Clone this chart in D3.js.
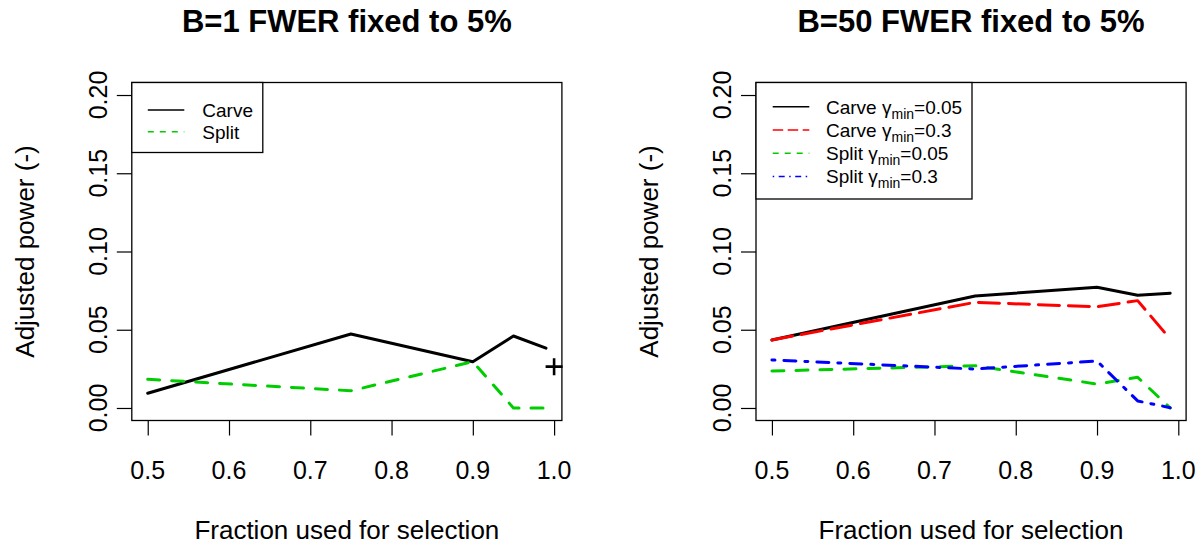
<!DOCTYPE html>
<html>
<head>
<meta charset="utf-8">
<script src="https://cdn.jsdelivr.net/npm/d3@7"></script>
<style>
  html, body { margin: 0; padding: 0; background: #ffffff; }
  svg { display: block; }
  text { font-family: "Liberation Sans", Arial, Helvetica, sans-serif; fill: #000; }
</style>
</head>
<body>
<svg id="chart" width="1204" height="548"></svg>
<script>
// Fractions of the sample used for the selection step
const fractions = [0.5, 0.75, 0.9, 0.95, 0.99];
const xTicks = [0.5, 0.6, 0.7, 0.8, 0.9, 1.0];
const yTicks = [0.00, 0.05, 0.10, 0.15, 0.20];

// B = 1 panel
const b1Carve = [0.0094, 0.0473, 0.0296, 0.0460, 0.0382];
const b1Split = [0.0183, 0.0110, 0.0296, 0.0000, 0.0000];
const b1Marker = [1.0, 0.0264];

// B = 50 panel
const b50CarveG005 = [0.0435, 0.0716, 0.0771, 0.0720, 0.0733];
const b50CarveG03 = [0.0435, 0.0675, 0.0647, 0.0686, 0.0441];
const b50SplitG005 = [0.0236, 0.0270, 0.0153, 0.0196, 0.0000];
const b50SplitG03 = [0.0307, 0.0249, 0.0300, 0.0045, 0.0002];

const titles = ["B=1 FWER fixed to 5%", "B=50 FWER fixed to 5%"];
const xLabel = "Fraction used for selection";
const yLabel = "Adjusted power (-)";

const svg = d3.select("#chart");
svg.append("rect").attr("width", 1204).attr("height", 548).attr("fill", "#fff");

const FONT = '"Liberation Sans", Arial, Helvetica, sans-serif';
const dashStyles = {
  solid: null,
  dashed: "12,12",
  longdash: "21,9",
  dotdash: "3,9,12,9"
};
const legendDash = {
  solid: null,
  dashed: "6,6",
  longdash: "10.5,4.5",
  dotdash: "1.5,4.5,6,4.5"
};

const panels = [
  {
    box: [131.8, 82.5, 561.9, 420.5],
    title: titles[0],
    series: [
      { values: b1Carve, color: "#000000", style: "solid", label: "Carve" },
      { values: b1Split, color: "#00CD00", style: "dashed", label: "Split" }
    ],
    marker: b1Marker,
    legend: { w: 131, h: 70, row0: 27.5, rowStep: 21.7, lineX0: 16, lineX1: 52.5, textX: 70.5, gamma: false }
  },
  {
    box: [756.0, 82.5, 1186.1, 420.5],
    title: titles[1],
    series: [
      { values: b50CarveG005, color: "#000000", style: "solid", label: "Carve", g: "0.05" },
      { values: b50CarveG03, color: "#FF0000", style: "longdash", label: "Carve", g: "0.3" },
      { values: b50SplitG005, color: "#00CD00", style: "dashed", label: "Split", g: "0.05" },
      { values: b50SplitG03, color: "#0000FF", style: "dotdash", label: "Split", g: "0.3" }
    ],
    marker: null,
    legend: { w: 216, h: 116.5, row0: 24.2, rowStep: 23.3, lineX0: 16.7, lineX1: 53.3, textX: 70, gamma: true }
  }
];

panels.forEach(p => {
  const [bx0, by0, bx1, by1] = p.box;
  const xmin = d3.min(fractions), xmax = d3.max(fractions);
  const xpad = (xmax - xmin) * 0.04;
  const ypad = 0.2 * 0.04;
  const x = d3.scaleLinear().domain([xmin - xpad, xmax + xpad]).range([bx0, bx1]);
  const y = d3.scaleLinear().domain([0 - ypad, 0.2 + ypad]).range([by1, by0]);

  const g = svg.append("g");

  // Title
  g.append("text")
    .attr("x", (bx0 + bx1) / 2).attr("y", 32)
    .attr("text-anchor", "middle")
    .style("font-size", "31px").style("font-weight", "bold")
    .text(p.title);

  // X axis
  const xAxis = d3.axisBottom(x).tickValues(xTicks).tickSize(15).tickPadding(6)
    .tickFormat(d3.format(".1f"));
  const gx = g.append("g").attr("transform", `translate(0,${by1})`).call(xAxis);
  gx.select(".domain").remove();
  gx.selectAll(".tick line").attr("stroke", "#000").attr("stroke-width", 1.2);
  gx.selectAll(".tick text").remove();
  xTicks.forEach(t => {
    g.append("text").attr("x", x(t)).attr("y", 478.5)
      .attr("text-anchor", "middle").style("font-size", "25px")
      .text(d3.format(".1f")(t));
  });

  // Y axis
  const yAxis = d3.axisLeft(y).tickValues(yTicks).tickSize(15).tickFormat(d3.format(".2f"));
  const gy = g.append("g").attr("transform", `translate(${bx0},0)`).call(yAxis);
  gy.select(".domain").remove();
  gy.selectAll(".tick line").attr("stroke", "#000").attr("stroke-width", 1.2);
  gy.selectAll(".tick text").remove();
  yTicks.forEach(t => {
    const lx = bx0 - 25, ly = y(t);
    g.append("text")
      .attr("transform", `translate(${lx},${ly}) rotate(-90)`)
      .attr("text-anchor", "middle").style("font-size", "25px")
      .text(d3.format(".2f")(t));
  });

  // Axis titles
  g.append("text").attr("x", (bx0 + bx1) / 2).attr("y", 539)
    .attr("text-anchor", "middle").style("font-size", "26px").text(xLabel);
  g.append("text")
    .attr("transform", `translate(${bx0 - 98},${(by0 + by1) / 2}) rotate(-90)`)
    .attr("text-anchor", "middle").style("font-size", "26px").text(yLabel);

  // Data lines
  const line = d3.line().x((d, i) => x(fractions[i])).y(d => y(d));
  p.series.forEach(s => {
    g.append("path")
      .attr("d", line(s.values))
      .attr("fill", "none")
      .attr("stroke", s.color)
      .attr("stroke-width", 3)
      .attr("stroke-linejoin", "round")
      .attr("stroke-linecap", "round")
      .attr("stroke-dasharray", dashStyles[s.style]);
  });

  // Plus marker
  if (p.marker) {
    const mx = x(p.marker[0]), my = y(p.marker[1]);
    g.append("path")
      .attr("d", `M${mx - 8.5},${my}H${mx + 8.5}M${mx},${my - 8.5}V${my + 8.5}`)
      .attr("stroke", "#000").attr("stroke-width", 2.6).attr("fill", "none");
  }

  // Plot box
  g.append("rect")
    .attr("x", bx0).attr("y", by0).attr("width", bx1 - bx0).attr("height", by1 - by0)
    .attr("fill", "none").attr("stroke", "#000").attr("stroke-width", 1.3);

  // Legend
  const L = p.legend;
  const lg = g.append("g").attr("transform", `translate(${bx0},${by0})`);
  lg.append("rect").attr("width", L.w).attr("height", L.h)
    .attr("fill", "#fff").attr("stroke", "#000").attr("stroke-width", 1.3);
  p.series.forEach((s, i) => {
    const cy = L.row0 + i * L.rowStep;
    lg.append("line")
      .attr("x1", L.lineX0).attr("x2", L.lineX1).attr("y1", cy).attr("y2", cy)
      .attr("stroke", s.color).attr("stroke-width", 1.5)
      .attr("stroke-dasharray", legendDash[s.style]);
    const t = lg.append("text").attr("x", L.textX).attr("y", cy + 6.8)
      .style("font-size", "19px");
    if (L.gamma) {
      t.append("tspan").text(s.label + " \u03B3");
      t.append("tspan").attr("dy", 5).style("font-size", "14px").text("min");
      t.append("tspan").attr("dy", -5).text("=" + s.g);
    } else {
      t.text(s.label);
    }
  });
});
</script>
</body>
</html>
